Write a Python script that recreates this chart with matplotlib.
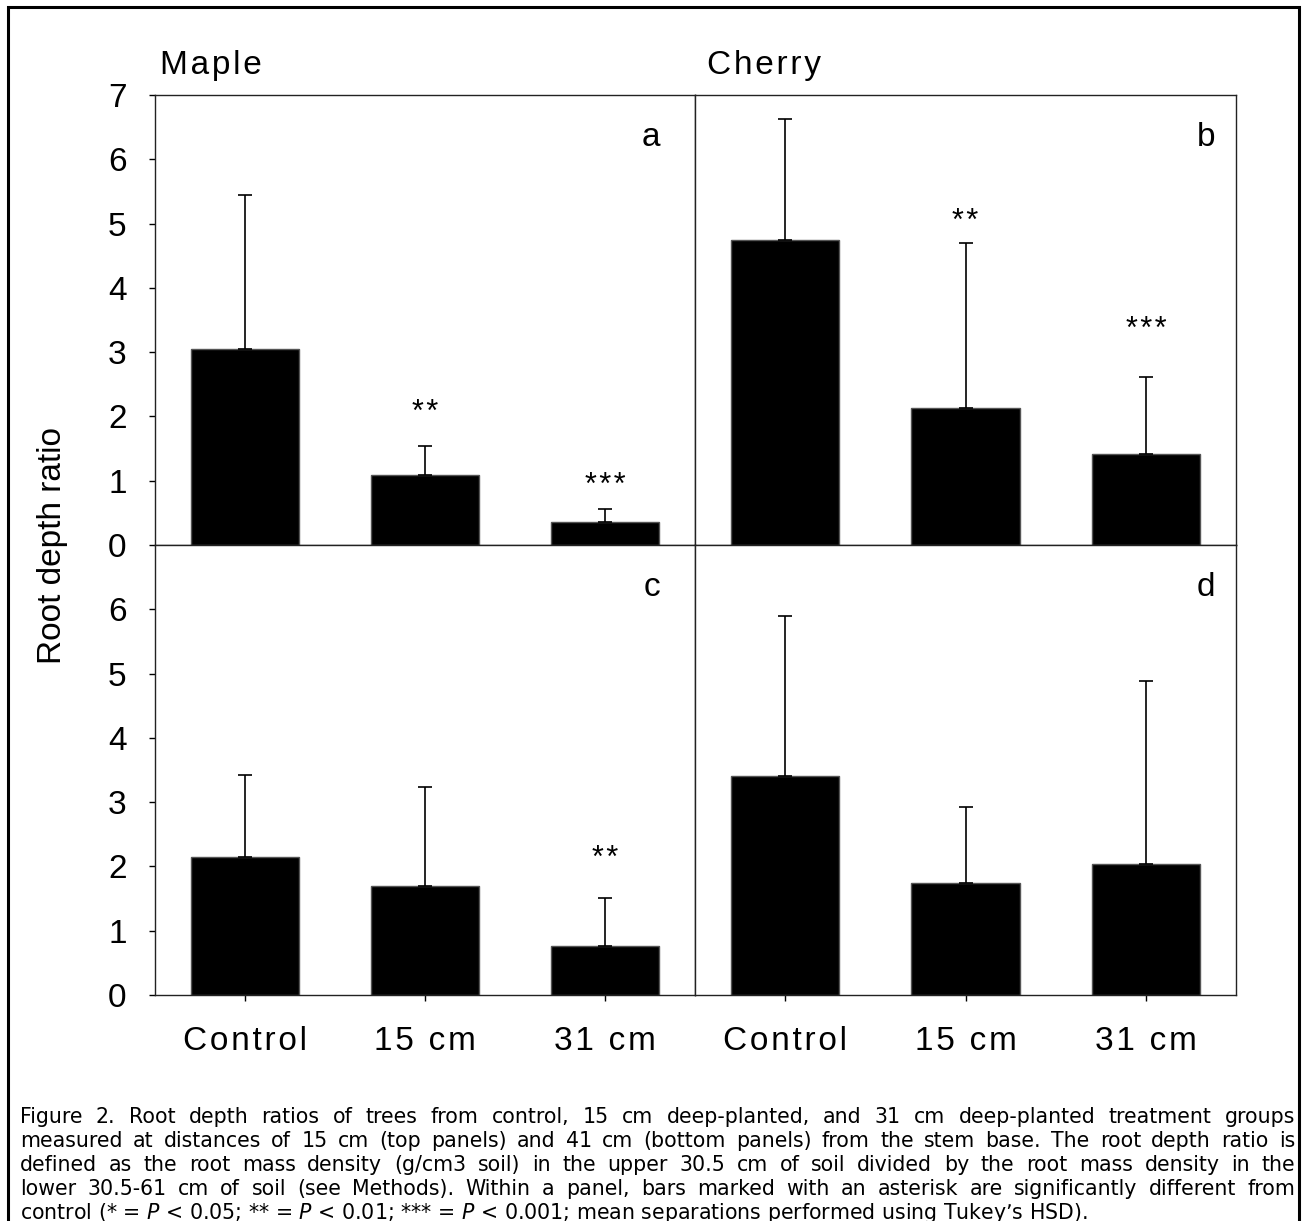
import matplotlib
matplotlib.use('Agg')
import matplotlib.pyplot as plt
from matplotlib.patches import Rectangle

W, H = 1304, 1221
plt.rcParams['font.family'] = ['Liberation Sans', 'DejaVu Sans']
HS = '\u200a'  # hair space, used to spread the letters like the original


def spaced(s):
    return HS.join(s)


treatments = ['Control', '15 cm', '31 cm']
species = ['Maple', 'Cherry']

# top row: 15 cm from stem base, bottom row: 41 cm
maple_top_mean = [3.05, 1.09, 0.36]
maple_top_err = [2.40, 0.45, 0.20]
maple_top_stars = ['', '**', '***']
maple_top_star_y = [0, 2.19, 1.06]

cherry_top_mean = [4.75, 2.13, 1.42]
cherry_top_err = [1.88, 2.57, 1.19]
cherry_top_stars = ['', '**', '***']
cherry_top_star_y = [0, 5.16, 3.48]

maple_bot_mean = [2.15, 1.70, 0.76]
maple_bot_err = [1.28, 1.53, 0.75]
maple_bot_stars = ['', '', '**']
maple_bot_star_y = [0, 0, 2.25]

cherry_bot_mean = [3.41, 1.74, 2.04]
cherry_bot_err = [2.48, 1.19, 2.84]
cherry_bot_stars = ['', '', '']
cherry_bot_star_y = [0, 0, 0]

caption_lines = [
    "Figure 2. Root depth ratios of trees from control, 15 cm deep-planted, and 31 cm deep-planted treatment groups",
    "measured at distances of 15 cm (top panels) and 41 cm (bottom panels) from the stem base.  The root depth ratio is",
    "defined as the root mass density (g/cm3 soil) in the upper 30.5 cm of soil divided by the root mass density in the",
    "lower 30.5-61 cm of soil (see Methods). Within a panel, bars marked with an asterisk are significantly different from",
    "control (* = $P$ < 0.05; ** = $P$ < 0.01; *** = $P$ < 0.001; mean separations performed using Tukey\u2019s HSD).",
]

panels = [
    [(maple_top_mean, maple_top_err, maple_top_stars, maple_top_star_y, 'a'),
     (cherry_top_mean, cherry_top_err, cherry_top_stars, cherry_top_star_y, 'b')],
    [(maple_bot_mean, maple_bot_err, maple_bot_stars, maple_bot_star_y, 'c'),
     (cherry_bot_mean, cherry_bot_err, cherry_bot_stars, cherry_bot_star_y, 'd')],
]


def rect(x0, y0, x1, y1):
    return [x0 / W, 1 - y1 / H, (x1 - x0) / W, (y1 - y0) / H]


fig = plt.figure(figsize=(W / 100, H / 100), dpi=100)

xs = [0.5, 1.5, 2.5]
col_x = [(155, 695), (695, 1236)]
row_y = [(95, 545), (545, 995)]
letter_x = [0.935, 0.961]

for r in range(2):
    for c in range(2):
        mean, err, stars, star_y, letter = panels[r][c]
        ax = fig.add_axes(rect(col_x[c][0], row_y[r][0], col_x[c][1], row_y[r][1]))
        ax.bar(xs, mean, width=0.6, color='black', edgecolor='#555555', linewidth=1)
        ax.errorbar(xs, mean, yerr=[[0] * 3, err], fmt='none', ecolor='black',
                    elinewidth=1.2, capsize=5, capthick=1.2)
        for x, s, sy in zip(xs, stars, star_y):
            if s:
                ax.annotate(spaced(s), (x, sy), xytext=(0, -12), textcoords='offset points',
                            ha='center', va='baseline', fontsize=22)
        ax.text(letter_x[c], 0.887, letter, transform=ax.transAxes, ha='right',
                va='baseline', fontsize=24)
        ax.set_xlim(0, 3)
        ax.set_ylim(0, 7)
        for sp in ax.spines.values():
            sp.set_linewidth(1.0)
            sp.set_color('#222222')
        if r == 1:
            ax.set_xticks(xs)
            ax.set_xticklabels([spaced(t) for t in treatments], fontsize=24)
            ax.tick_params(axis='x', direction='out', length=4.5, width=1, pad=18)
        else:
            ax.set_xticks([])
        if c == 0:
            ax.set_yticks(range(8) if r == 0 else range(7))
            ax.tick_params(axis='y', direction='out', length=4.5, width=1,
                           pad=16, labelsize=24)
        else:
            ax.set_yticks([])

for name, x in zip(species, [160, 707]):
    fig.text(x / W, 1 - 74 / H, spaced(name), fontsize=24, va='baseline', ha='left')

fig.text(52 / W, 1 - 545 / H, 'Root depth ratio', rotation=90, fontsize=24,
         ha='center', va='center')

# outer frame
fig.patches.append(Rectangle((8 / W, -0.1), (1299 - 8) / W, 1.1 - 7 / H,
                             transform=fig.transFigure, fill=False,
                             edgecolor='black', linewidth=2.2))

# justified caption
renderer = fig.canvas.get_renderer()
left, right = 20, 1295
cap_size = 14.8
for i, line in enumerate(caption_lines):
    y = 1 - (1123 + 24 * i) / H
    if i == len(caption_lines) - 1:
        fig.text(left / W, y, line, fontsize=cap_size, family='DejaVu Sans', va='baseline')
        continue
    words = line.split()
    texts = [fig.text(0, y, w, fontsize=cap_size, family='DejaVu Sans', va='baseline')
             for w in words]
    widths = [t.get_window_extent(renderer).width for t in texts]
    gap = (right - left - sum(widths)) / (len(words) - 1)
    x = left
    for t, wd in zip(texts, widths):
        t.set_x(x / W)
        x += wd + gap

fig.savefig('out.png', dpi=100)
